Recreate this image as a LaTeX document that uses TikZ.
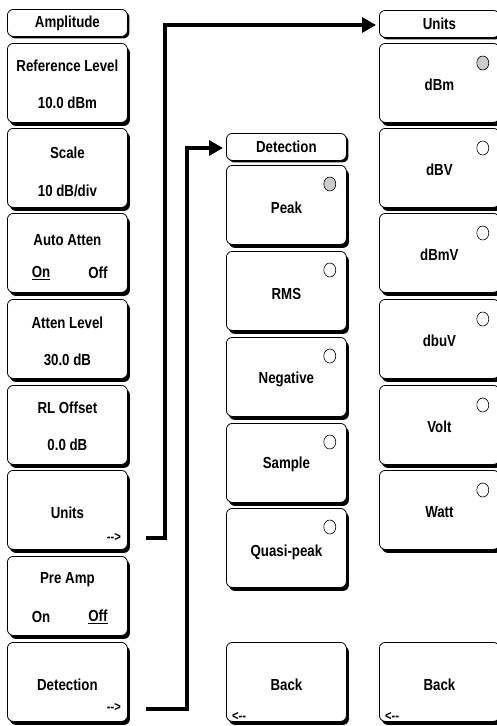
\documentclass[tikz,border=0pt]{standalone}
\usepackage{fontspec}
\setmainfont{Liberation Sans}[FakeStretch=0.83]
\usetikzlibrary{shadows,arrows.meta,shapes.geometric}
\tikzset{
  boxbase/.style={draw=black, line width=0.8pt, fill=white, rounded corners=6pt,
    minimum width=120pt, anchor=north west, inner sep=0pt},
  btn/.style={boxbase, minimum height=79pt,
    general shadow={fill=black, rounded corners=6pt, shadow xshift=2.5pt, shadow yshift=-3.5pt}},
  hdr/.style={boxbase, minimum height=27pt,
    general shadow={fill=black, rounded corners=6pt, shadow xshift=2pt, shadow yshift=-2pt}},
  lbl/.style={font=\bfseries\fontsize{16}{16}\selectfont, inner sep=0pt, anchor=center},
  arr/.style={font=\bfseries\fontsize{13.5}{13.5}\selectfont, inner sep=0pt},
  radio/.style={draw=black, line width=0.6pt, ellipse, minimum width=12pt,
    minimum height=14pt, inner sep=0pt, fill=white},
  selradio/.style={radio, fill=black!20},
  link/.style={line width=3.2pt, -{Triangle[length=14pt,width=15pt]}, shorten >=3pt},
}
\begin{document}
\begin{tikzpicture}[x=1pt,y=-1pt]
\useasboundingbox (0,0) rectangle (497,726);

% ---------------- left column ----------------
\node[hdr] (ampH) at (7,9) {};
\node[lbl] (ampHt) at (ampH.center) {Amplitude};

\node[btn] (ref) at (7,43) {};
\node[lbl] (ref1) at ([yshift=-23pt]ref.north) {Reference Level};
\node[lbl] (ref2) at ([yshift=-60pt]ref.north) {10.0 dBm};

\node[btn] (scl) at (7,128) {};
\node[lbl] (scl1) at ([yshift=-25pt]scl.north) {Scale};
\node[lbl] (scl2) at ([yshift=-63pt]scl.north) {10 dB/div};

\node[btn] (aat) at (7,213) {};
\node[lbl] (aat1) at ([yshift=-27pt]aat.north) {Auto Atten};
\node[lbl] (aat2) at (41,273) {\underline{On}};
\node[lbl] (aat3) at (98,273) {Off};

\node[btn] (atl) at (7,299) {};
\node[lbl] (atl1) at ([yshift=-24pt]atl.north) {Atten Level};
\node[lbl] (atl2) at ([yshift=-61pt]atl.north) {30.0 dB};

\node[btn] (rlo) at (7,385) {};
\node[lbl] (rlo1) at ([yshift=-23pt]rlo.north) {RL Offset};
\node[lbl] (rlo2) at ([yshift=-60pt]rlo.north) {0.0 dB};

\node[btn] (unL) at (7,470) {};
\node[lbl] (unL1) at ([yshift=-43pt]unL.north) {Units};
\node[arr, anchor=east] (unL2) at (121,537) {-{}->};

\node[btn] (pre) at (7,556) {};
\node[lbl] (pre1) at ([yshift=-24pt]pre.north) {Pre Amp};
\node[lbl] (pre2) at (41,617) {On};
\node[lbl] (pre3) at (98,617) {\underline{Off}};

\node[btn] (detL) at (7,642) {};
\node[lbl] (detL1) at ([yshift=-43pt]detL.north) {Detection};
\node[arr, anchor=east] (detL2) at (121,707) {-{}->};

% ---------------- middle column ----------------
\node[hdr] (detH) at (226,133) {};
\node[lbl] (detHt) at (detH.center) {Detection};

\node[btn] (pk) at (226,165) {};
\node[lbl] (pk1) at ([yshift=-43pt]pk.north) {Peak};
\node[selradio] (pkr) at ([xshift=-17pt,yshift=-19pt]pk.north east) {};

\node[btn] (rms) at (226,251) {};
\node[lbl] (rms1) at ([yshift=-43pt]rms.north) {RMS};
\node[radio] (rmsr) at ([xshift=-17pt,yshift=-19pt]rms.north east) {};

\node[btn] (neg) at (226,337) {};
\node[lbl] (neg1) at ([yshift=-42pt]neg.north) {Negative};
\node[radio] (negr) at ([xshift=-17pt,yshift=-19pt]neg.north east) {};

\node[btn] (smp) at (226,423) {};
\node[lbl] (smp1) at ([yshift=-41pt]smp.north) {Sample};
\node[radio] (smpr) at ([xshift=-17pt,yshift=-19pt]smp.north east) {};

\node[btn] (qp) at (226,508) {};
\node[lbl] (qp1) at ([yshift=-44pt]qp.north) {Quasi-peak};
\node[radio] (qpr) at ([xshift=-17pt,yshift=-19pt]qp.north east) {};

\node[btn] (bkM) at (226,642) {};
\node[lbl] (bkM1) at ([yshift=-43pt]bkM.north) {Back};
\node[arr, anchor=west] (bkM2) at (232,716) {<-{}-};

% ---------------- right column ----------------
\node[hdr] (unH) at (379,10) {};
\node[lbl] (unHt) at (unH.center) {Units};

\node[btn] (dbm) at (379,43) {};
\node[lbl] (dbm1) at ([yshift=-42pt]dbm.north) {dBm};
\node[selradio] (dbmr) at ([xshift=-17pt,yshift=-20pt]dbm.north east) {};

\node[btn] (dbv) at (379,128) {};
\node[lbl] (dbv1) at ([yshift=-42pt]dbv.north) {dBV};
\node[radio] (dbvr) at ([xshift=-17pt,yshift=-20pt]dbv.north east) {};

\node[btn] (dbmv) at (379,213) {};
\node[lbl] (dbmv1) at ([yshift=-42pt]dbmv.north) {dBmV};
\node[radio] (dbmvr) at ([xshift=-17pt,yshift=-20pt]dbmv.north east) {};

\node[btn] (dbuv) at (379,299) {};
\node[lbl] (dbuv1) at ([yshift=-42pt]dbuv.north) {dbuV};
\node[radio] (dbuvr) at ([xshift=-17pt,yshift=-20pt]dbuv.north east) {};

\node[btn] (volt) at (379,385) {};
\node[lbl] (volt1) at ([yshift=-42pt]volt.north) {Volt};
\node[radio] (voltr) at ([xshift=-17pt,yshift=-20pt]volt.north east) {};

\node[btn] (watt) at (379,470) {};
\node[lbl] (watt1) at ([yshift=-42pt]watt.north) {Watt};
\node[radio] (wattr) at ([xshift=-17pt,yshift=-20pt]watt.north east) {};

\node[btn] (bkR) at (379,642) {};
\node[lbl] (bkR1) at ([yshift=-43pt]bkR.north) {Back};
\node[arr, anchor=west] (bkR2) at (385,716) {<-{}-};

% ---------------- connectors ----------------
\coordinate (uS) at (146,538);
\coordinate (uC) at (165,25);
\draw[link] (uS) -| (uC) -- (uC -| unH.west);

\coordinate (dS) at (146,709);
\coordinate (dC) at (187,148);
\draw[link] (dS) -| (dC) -- (dC -| detH.west);
\end{tikzpicture}
\end{document}
